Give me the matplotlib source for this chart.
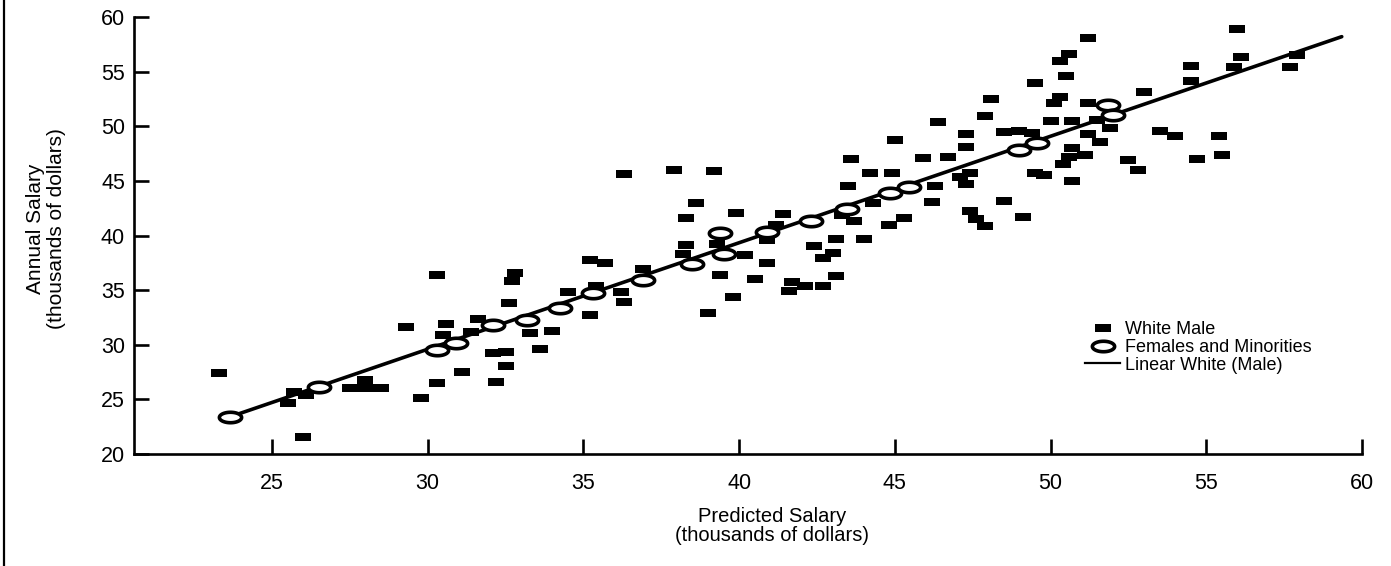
import numpy as np
import matplotlib.pyplot as plt
from matplotlib.path import Path
from matplotlib.lines import Line2D

# White male points (predicted salary, annual salary), thousands of dollars
wm_x = [23.3, 25.5, 25.7, 26.1, 26.0, 27.5, 28.0, 28.5, 28.0, 29.3,
        29.8, 30.3, 30.3, 30.6, 30.5, 31.1, 31.6, 31.4, 32.1, 32.5,
        32.5, 32.2, 32.8, 32.7, 32.6, 33.3, 33.6, 34.0, 35.2, 34.5,
        35.4, 35.2, 35.7, 36.2, 36.3, 36.3, 36.9, 37.9, 39.2, 38.6,
        38.3, 38.3, 38.2, 39.3, 39.9, 40.2, 39.4, 39.0, 39.8, 40.5,
        40.9, 40.9, 41.4, 41.2, 41.7, 41.6, 42.1, 42.7, 42.4, 42.7,
        43.0, 43.1, 43.1, 43.5, 43.6, 44.2, 44.9, 45.0, 44.0, 43.7,
        43.3, 44.3, 44.8, 45.3, 45.9, 46.3, 46.2, 46.4, 46.7, 47.1,
        47.3, 47.4, 47.3, 47.3, 47.4, 47.6, 47.9, 47.9, 48.1, 48.5,
        48.5, 49.0, 49.1, 49.5, 49.4, 49.5, 49.8, 50.0, 50.1, 50.3,
        50.3, 50.6, 50.5, 51.2, 50.4, 50.6, 50.7, 50.7, 50.7, 51.1,
        51.2, 51.2, 51.5, 51.6, 51.9, 52.5, 52.8, 53.0, 54.5, 54.5,
        56.0, 56.1, 55.9, 57.9, 57.7, 53.5, 54.0, 55.4, 55.5, 54.7]
wm_y = [27.4, 24.7, 25.7, 25.4, 21.6, 26.0, 26.0, 26.0, 26.8, 31.6,
        25.1, 26.5, 36.4, 31.9, 30.9, 27.5, 32.4, 31.2, 29.2, 29.3,
        28.1, 26.6, 36.6, 35.8, 33.8, 31.1, 29.6, 31.3, 32.7, 34.8,
        35.4, 37.8, 37.5, 34.8, 33.9, 45.6, 36.9, 46.0, 45.9, 43.0,
        41.6, 39.1, 38.3, 39.2, 42.1, 38.2, 36.4, 32.9, 34.4, 36.0,
        37.5, 39.6, 42.0, 41.0, 35.7, 34.9, 35.4, 35.4, 39.0, 37.9,
        38.4, 36.3, 39.7, 44.5, 47.0, 45.7, 45.7, 48.7, 39.7, 41.3,
        41.9, 43.0, 41.0, 41.6, 47.1, 44.5, 43.1, 50.4, 47.2, 45.4,
        44.7, 45.7, 48.1, 49.3, 42.2, 41.5, 40.9, 50.9, 52.5, 49.5,
        43.2, 49.6, 41.7, 54.0, 49.4, 45.7, 45.5, 50.5, 52.1, 52.7,
        56.0, 56.6, 54.6, 58.1, 46.5, 47.2, 48.0, 45.0, 50.5, 47.4,
        49.3, 52.1, 50.6, 48.6, 49.8, 46.9, 46.0, 53.1, 55.5, 54.1,
        58.9, 56.3, 55.4, 56.5, 55.4, 49.6, 49.1, 49.1, 47.4, 47.0]

# Females and minorities
fm_x = [23.65, 26.5, 30.3, 30.9, 32.1, 33.2, 34.25, 35.3, 36.9, 38.5,
        39.4, 39.5, 40.9, 42.3, 43.45, 44.85, 45.45, 49.0, 49.55, 51.85,
        52.0]
fm_y = [23.4, 26.1, 29.5, 30.2, 31.8, 32.3, 33.4, 34.7, 35.9, 37.4,
        40.2, 38.3, 40.3, 41.3, 42.4, 43.9, 44.4, 47.8, 48.5, 51.9,
        51.0]

# Linear fit for white males (end points)
fit_x = [23.65, 59.35]
fit_y = [23.4, 58.2]

x_ticks = [25, 30, 35, 40, 45, 50, 55, 60]
y_ticks = [20, 25, 30, 35, 40, 45, 50, 55, 60]

plt.rcParams['font.family'] = ['Liberation Sans', 'DejaVu Sans']

W, H = 1391, 566
fig = plt.figure(figsize=(W / 100, H / 100), dpi=100)
ax = fig.add_axes([134 / W, 1 - 454 / H, (1362 - 134) / W, (454 - 17) / H])

# marker shapes: flat bar and open oval
rect_marker = [(-1, -0.55), (1, -0.55), (1, 0.55), (-1, 0.55)]
t = np.linspace(0, 2 * np.pi, 73)
oval_marker = Path(np.column_stack([np.cos(t), 0.47 * np.sin(t)]), closed=True)

ax.plot(fit_x, fit_y, color='black', lw=2.6, solid_capstyle='round', zorder=2)
ax.plot(wm_x, wm_y, ls='none', marker=rect_marker, ms=11.5, color='black',
        mew=0, zorder=3, clip_on=False)
ax.plot(fm_x, fm_y, ls='none', marker=oval_marker, ms=16, mfc='white',
        mec='black', mew=2.6, zorder=4, clip_on=False)

ax.set_xlim(20.57, 60)
ax.set_ylim(20, 60)
ax.set_xticks(x_ticks)
ax.set_yticks(y_ticks)

for side in ['top', 'right']:
    ax.spines[side].set_visible(False)
for side in ['left', 'bottom']:
    ax.spines[side].set_linewidth(1.9)

ax.tick_params(axis='both', direction='in', length=10.8, width=1.9,
               labelsize=15.5, colors='black')
ax.tick_params(axis='x', pad=14)
ax.tick_params(axis='y', pad=6.5)

fig.text(772 / W, 1 - 526 / H, 'Predicted Salary\n(thousands of dollars)',
         ha='center', va='center', fontsize=14.5, linespacing=1.05)
fig.text(46 / W, 1 - 229 / H, 'Annual Salary\n(thousands of dollars)',
         ha='center', va='center', fontsize=15, rotation=90, linespacing=1.1)

handles = [
    Line2D([], [], ls='none', marker=rect_marker, ms=11.5, color='black', mew=0),
    Line2D([], [], ls='none', marker=oval_marker, ms=16, mfc='white',
           mec='black', mew=2.6),
    Line2D([], [], color='black', lw=1.6),
]
labels = ['White Male', 'Females and Minorities', 'Linear White (Male)']
ax.legend(handles, labels, loc='upper left',
          bbox_to_anchor=(1085 / W, 1 - 321 / H), bbox_transform=fig.transFigure,
          frameon=False, fontsize=13, borderpad=0, borderaxespad=0,
          handlelength=1.95, handletextpad=0.28, labelspacing=0.05)

# scanned page edge on the left
fig.add_artist(Line2D([3.5 / W, 3.5 / W], [0, 1], color='black', lw=1.6,
                      transform=fig.transFigure))

fig.savefig('out.png', dpi=100)
